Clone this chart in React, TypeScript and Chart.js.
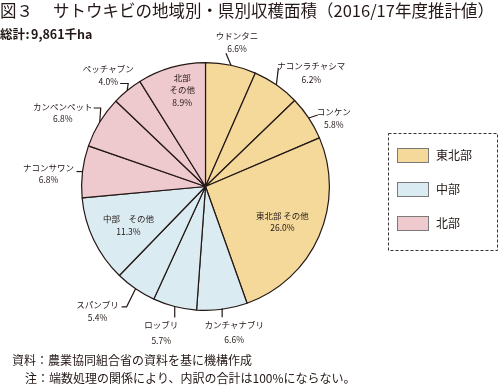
import React, { useEffect, useRef } from "react";
import { Chart, registerables } from "chart.js";

Chart.register(...registerables);

// ---- data ----
const categories = [
  "ウドンタニ",
  "ナコンラチャシマ",
  "コンケン",
  "東北部 その他",
  "カンチャナブリ",
  "ロッブリ",
  "スパンブリ",
  "中部　その他",
  "ナコンサワン",
  "カンペンペット",
  "ペッチャブン",
  "北部\nその他",
];
const shares = [6.6, 6.2, 5.8, 26.0, 6.6, 5.7, 5.4, 11.3, 6.8, 6.8, 4.0, 8.9];
const regionOf = [0, 0, 0, 0, 1, 1, 1, 1, 2, 2, 2, 2];
const regions = ["東北部", "中部", "北部"];
const regionColors = ["#F4D99B", "#DBEBF2", "#EEC9CD"];

const titleMain = "図３";
const titleRest = "サトウキビの地域別・県別収穫面積（2016/17年度推計値）";
const totalLabel = "総計";
const totalColon = ":";
const totalValue = "9,861千ha";
const notes = [
  "資料：農業協同組合省の資料を基に機構作成",
  "注：端数処理の関係により、内訳の合計は100%にならない。",
];

// ---- label styling (relative to each slice's mid-angle anchor) ----
type LabelCfg = { f: number; dx: number; dy: number; gap: number; leader?: number[][] };
const labelCfg: LabelCfg[] = [
  { f: 1, dx: 6, dy: -29, gap: 13, leader: [[0, 0], [-5, -12]] },
  { f: 1, dx: 35, dy: -19, gap: 14, leader: [[0, 0], [2, -17]] },
  { f: 1, dx: 25, dy: -6, gap: 13, leader: [[0, 0], [9, -3]] },
  { f: 0.66, dx: 2, dy: -4, gap: 12 },
  { f: 1, dx: 12, dy: 15, gap: 15, leader: [[0, -1], [0, 8]] },
  { f: 1, dx: -13.5, dy: 18, gap: 16, leader: [[0, 0], [0, 11]] },
  { f: 1, dx: -38, dy: 16, gap: 13, leader: [[0, 0], [-9, 18], [-14, 18]] },
  { f: 0.69, dx: 0, dy: -4.5, gap: 13 },
  { f: 1, dx: -34, dy: -4, gap: 12, leader: [[0, 0], [-6, 0]] },
  { f: 1, dx: -37, dy: -15.6, gap: 12, leader: [[0, 0], [1, -14], [-6, -14]] },
  { f: 1, dx: -19, dy: -22, gap: 13, leader: [[0, 0], [1, -7], [-7, -7]] },
  { f: 0.8, dx: 4, dy: -13.7, gap: 12.5 },
];

const INK = "#231815";
const FONT = '"Noto Sans CJK JP", "Noto Sans", sans-serif';

const decorPlugin = {
  id: "decor",
  afterDatasetsDraw(chart: any) {
    const ctx: CanvasRenderingContext2D = chart.ctx;
    const meta = chart.getDatasetMeta(0);
    ctx.save();
    ctx.fillStyle = INK;
    ctx.strokeStyle = INK;
    ctx.textAlign = "center";
    ctx.textBaseline = "middle";
    meta.data.forEach((arc: any, i: number) => {
      const { x, y, startAngle, endAngle, outerRadius } = arc.getProps(
        ["x", "y", "startAngle", "endAngle", "outerRadius"],
        true
      );
      const mid = (startAngle + endAngle) / 2;
      const cfg = labelCfg[i];
      const ex = x + Math.cos(mid) * outerRadius;
      const ey = y + Math.sin(mid) * outerRadius;
      if (cfg.leader) {
        ctx.lineWidth = 1.2;
        ctx.beginPath();
        cfg.leader.forEach((p, k) => {
          if (k === 0) ctx.moveTo(ex + p[0], ey + p[1]);
          else ctx.lineTo(ex + p[0], ey + p[1]);
        });
        ctx.stroke();
      }
      const ax = x + Math.cos(mid) * outerRadius * cfg.f + cfg.dx;
      const ay = y + Math.sin(mid) * outerRadius * cfg.f + cfg.dy;
      const lines = categories[i].split("\n").concat([shares[i].toFixed(1) + "%"]);
      ctx.font = `8.5px ${FONT}`;
      lines.forEach((t, k) => ctx.fillText(t, ax, ay + k * cfg.gap));
    });

    // titles
    ctx.textAlign = "left";
    ctx.font = `16.5px ${FONT}`;
    ctx.fillText(titleMain, 0, 11);
    ctx.fillText(titleRest, 53, 11);
    ctx.font = `bold 12.5px ${FONT}`;
    ctx.fillText(totalLabel, 0, 34);
    ctx.fillText(totalColon, 25.5, 34);
    ctx.fillText(totalValue, 31, 34);
    ctx.font = `12px ${FONT}`;
    ctx.fillText(notes[0], 12, 360);
    ctx.fillText(notes[1], 25, 378);

    // legend
    ctx.lineWidth = 1;
    ctx.setLineDash([3, 2]);
    ctx.strokeStyle = "#333";
    ctx.strokeRect(388.5, 133.5, 109, 117);
    ctx.setLineDash([]);
    regions.forEach((r, k) => {
      const sy = 148 + k * 34;
      ctx.fillStyle = regionColors[k];
      ctx.fillRect(397, sy, 32, 15);
      ctx.strokeStyle = "#7a7a7a";
      ctx.strokeRect(397.5, sy + 0.5, 31, 14);
      ctx.fillStyle = INK;
      ctx.font = `12px ${FONT}`;
      ctx.fillText(r, 436, sy + 7.5);
    });
    ctx.restore();
  },
};

export default function App() {
  const ref = useRef<HTMLCanvasElement>(null);
  useEffect(() => {
    if (!ref.current) return;
    const chart = new Chart(ref.current, {
      type: "pie",
      data: {
        labels: categories,
        datasets: [
          {
            data: shares,
            backgroundColor: regionOf.map((r) => regionColors[r]),
            borderColor: INK,
            borderWidth: 1.2,
          },
        ],
      },
      options: {
        responsive: false,
        animation: false,
        layout: { padding: { left: 81, right: 169, top: 62, bottom: 75 } },
        plugins: { legend: { display: false }, tooltip: { enabled: false } },
        events: [],
      },
      plugins: [decorPlugin],
    });
    return () => chart.destroy();
  }, []);
  return (
    <div style={{ position: "absolute", left: 0, top: 0, width: 499, height: 386, background: "#fff" }}>
      <canvas ref={ref} width={499} height={386} />
    </div>
  );
}
